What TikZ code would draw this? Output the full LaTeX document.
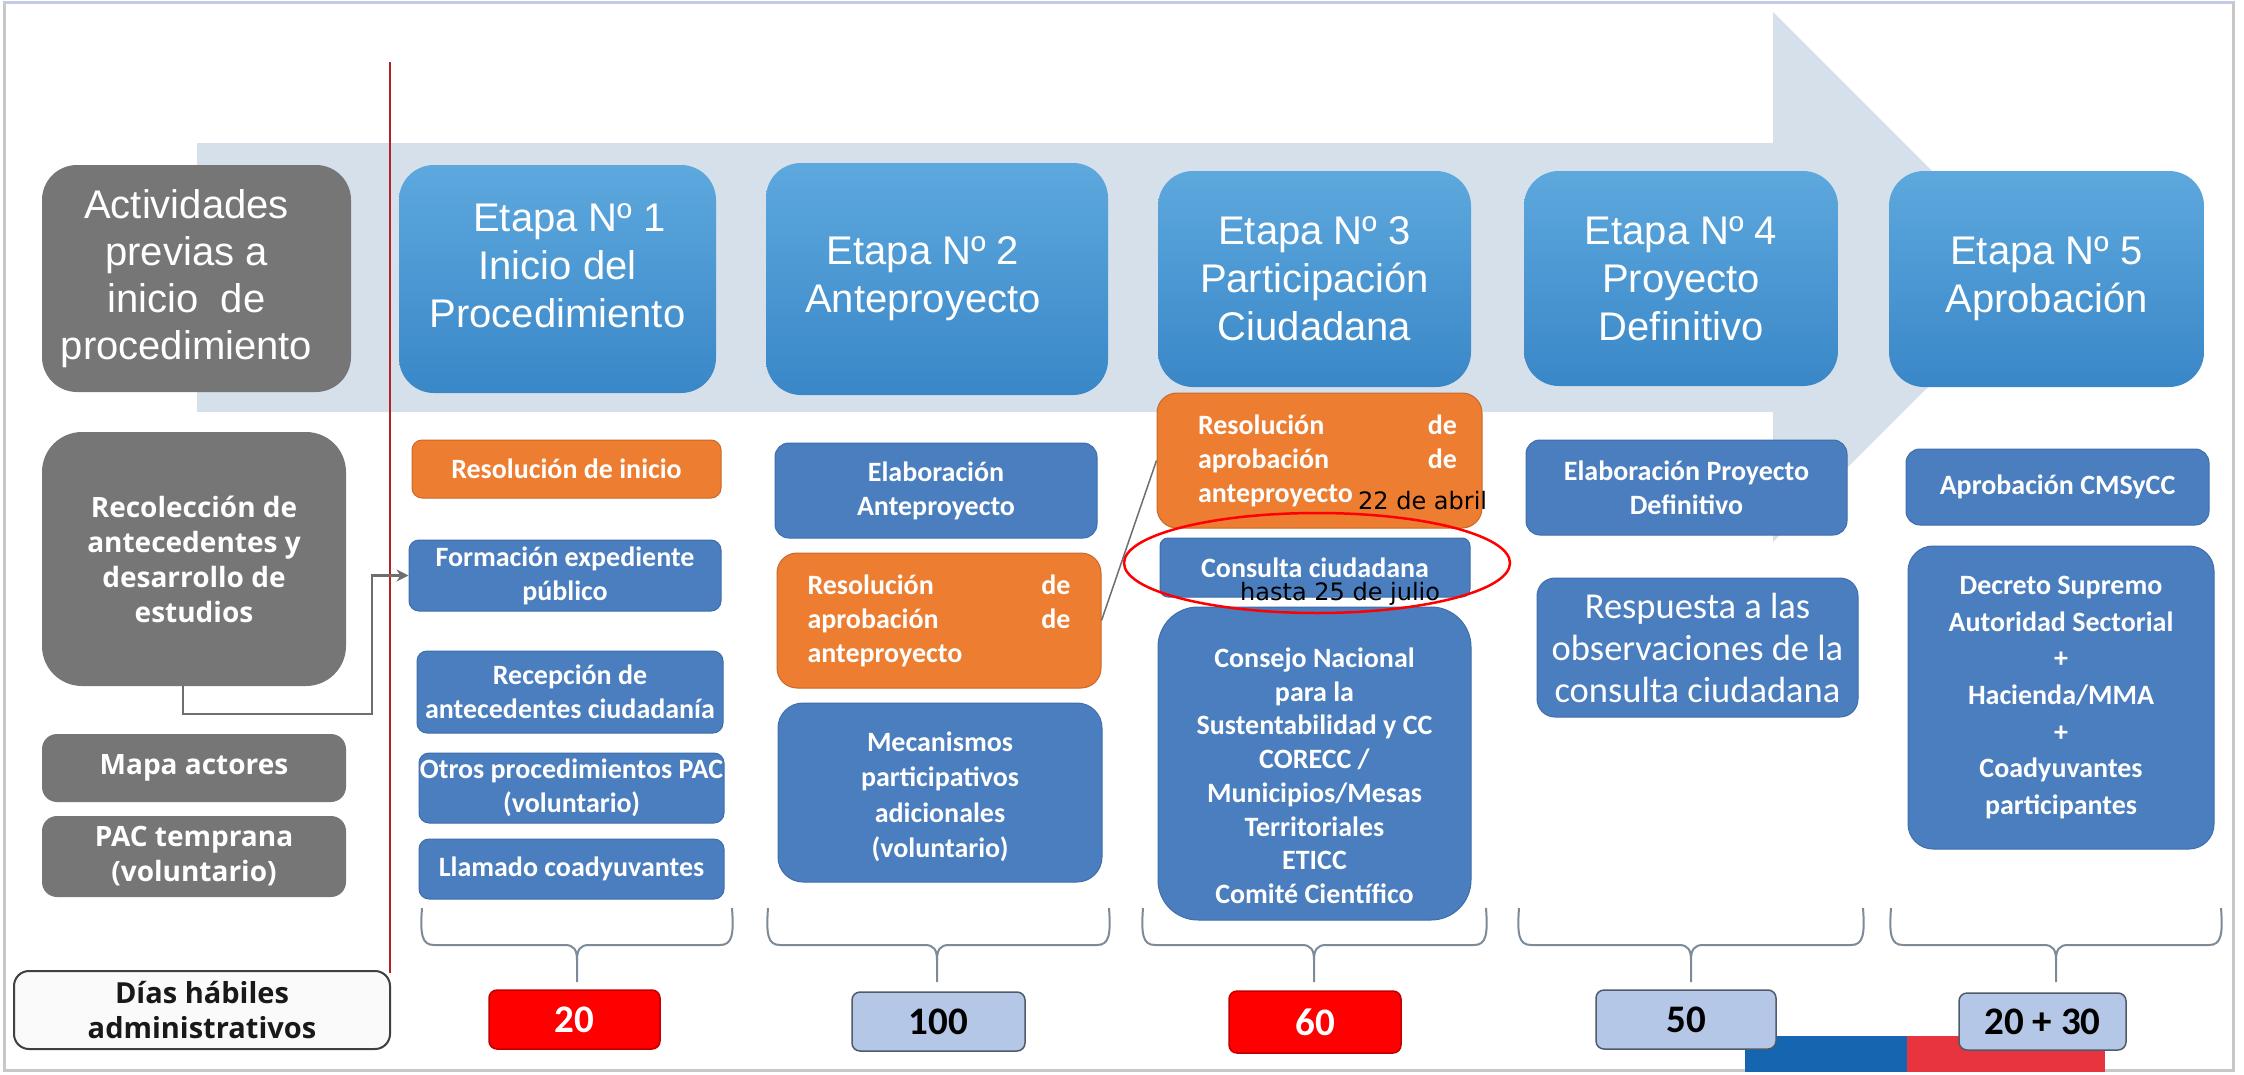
\documentclass[tikz,border=0pt]{standalone}
\usepackage{fontspec}
\newfontfamily\hdrfont{Liberation Sans}
\newfontfamily\calfont{Carlito}
\newfontfamily\osfont{Open Sans}
\newfontfamily\dvfont{DejaVu Sans}
\usetikzlibrary{arrows.meta}
\definecolor{arrowbg}{HTML}{D6E0EB}
\definecolor{hdrtop}{HTML}{5DA8DD}
\definecolor{hdrbot}{HTML}{3A87C8}
\definecolor{boxblue}{HTML}{4A7EBF}
\definecolor{boxblueD}{HTML}{3F6EAA}
\definecolor{boxorange}{HTML}{ED7D31}
\definecolor{boxorangeD}{HTML}{C96828}
\definecolor{boxgray}{HTML}{767676}
\definecolor{numred}{HTML}{FF0000}
\definecolor{numredD}{HTML}{C00000}
\definecolor{numblue}{HTML}{B4C7E7}
\definecolor{numblueD}{HTML}{4F5B6B}
\definecolor{bracec}{HTML}{7D8A98}
\definecolor{connc}{HTML}{6E6E6E}
\definecolor{vline}{HTML}{B22222}
\definecolor{framec}{HTML}{C8C8C8}
\definecolor{frametop}{HTML}{C5CAE6}
\definecolor{flagblue}{HTML}{1565B0}
\definecolor{flagred}{HTML}{E8343F}
\newcommand\jfill{\hskip 0pt plus 1fill\relax}
\newcommand\rpad[1]{\kern#1\null}
\newcommand\lpad[1]{\null\kern#1}
\newcommand\mybrace[3]{%
  \draw[brc] (#1,908) .. controls (#1-2,935) and (#1,945) .. (#1+12,945) -- (#2-12,945) .. controls (#2-3,945) and (#2,950) .. (#2,960) -- (#2,982);
  \draw[brc] (#3,908) .. controls (#3+2,935) and (#3,945) .. (#3-12,945) -- (#2+12,945) .. controls (#2+3,945) and (#2,950) .. (#2,960);}
\tikzset{
  wh/.style 2 args={minimum width=#1pt, minimum height=#2pt},
  hdr/.style={rounded corners=35pt, top color=hdrtop, bottom color=hdrbot, draw=none, text=white,
    font=\hdrfont\fontsize{40}{48}\selectfont, align=center, inner sep=0pt},
  sb/.style={rounded corners=10pt, fill=boxblue, draw=boxblueD, line width=1pt, text=white,
    font=\calfont\bfseries\fontsize{28}{34}\selectfont, align=center, inner sep=0pt},
  ob/.style={sb, fill=boxorange, draw=boxorangeD},
  gb/.style={rounded corners=15pt, fill=boxgray, draw=none, text=white,
    font=\osfont\bfseries\fontsize{28}{35}\selectfont, align=center, inner sep=0pt},
  nb/.style={rounded corners=8pt, line width=1.5pt, font=\calfont\bfseries\fontsize{39}{44}\selectfont, inner sep=0pt},
  nred/.style={nb, fill=numred, draw=numredD, text=white},
  nblu/.style={nb, fill=numblue, draw=numblueD, text=black},
  brc/.style={draw=bracec, line width=2pt},
  conn/.style={draw=connc, line width=2.5pt, -{Stealth[length=12pt, width=12pt]}},
  note/.style={anchor=base west, font=\dvfont\fontsize{24}{28}\selectfont, inner sep=0pt, text=black}
}
\begin{document}
\begin{tikzpicture}[x=1pt, y=-1pt]
\useasboundingbox (0,0) rectangle (2244,1074);
\fill[white] (0,0) rectangle (2244,1074);
\draw[framec, line width=3pt] (4,2) rectangle (2233,1070);
\draw[frametop, line width=3pt] (4,2) -- (2233,2);
% big arrow
\fill[arrowbg] (197,143) -- (1773,143) -- (1773,12) -- (2038,277) -- (1773,542) -- (1773,412) -- (197,412) -- cycle;
% red vertical line
\draw[vline, line width=1.5pt] (390,62) -- (390,973);
% bottom bars
\fill[flagblue] (1745,1036) rectangle (1907,1072);
\fill[flagred] (1907,1036) rectangle (2105,1072);
% left column
\node[gb, rounded corners=35pt, font=\hdrfont\fontsize{40}{47}\selectfont, wh={309}{227}] (act) at (196.5,278.5) {Actividades\rpad{20pt}\\previas a\rpad{20pt}\\inicio\ \ de\rpad{20pt}\\procedimiento\rpad{20pt}};
\node[gb, rounded corners=40pt, wh={304}{254}] (rec) at (194,559) {Recolección de\\antecedentes y\\desarrollo de\\estudios};
\node[gb, wh={304}{68}] (mapa) at (194,768) {Mapa actores};
\node[gb, wh={304}{81}] (pac) at (194,856.5) {PAC temprana\\(voluntario)};
\node[rounded corners=15pt, fill=white!98!black, draw=black!75, line width=2pt, text=black!90,
  font=\osfont\bfseries\fontsize{29}{35}\selectfont, align=center, inner sep=0pt, wh={376}{78}] (dias) at (202,1010) {Días hábiles\\administrativos};
% headers
\node[hdr, wh={317}{228}, text depth=26pt] (e1) at (557.5,279) {\lpad{24pt}Etapa Nº 1\\Inicio del\\Procedimiento};
\node[hdr, wh={342}{232}] (e2) at (937,279) {Etapa Nº 2\rpad{28pt}\\Anteproyecto\rpad{28pt}};
\node[hdr, wh={313}{216}] (e3) at (1314.5,279) {Etapa Nº 3\\Participación\\Ciudadana};
\node[hdr, wh={314}{215}] (e4) at (1681,278.5) {Etapa Nº 4\\Proyecto\\Definitivo};
\node[hdr, wh={315}{216}] (e5) at (2046.5,279) {Etapa Nº 5\\Aprobación};
% column 1
\node[ob, wh={309}{58}] (res1) at (566.5,469) {Resolución de inicio};
\node[sb, wh={312}{71}] (form) at (565,575.5) {Formación expediente\\público};
\node[sb, wh={306}{82}] (recep) at (570,692) {Recepción de\\antecedentes ciudadanía};
\node[sb, wh={305}{70}] (otros) at (571.5,788) {Otros procedimientos PAC\\(voluntario)};
\node[sb, wh={305}{60}] (llam) at (571.5,869) {Llamado coadyuvantes};
\node[nred, wh={171}{59}] (n20) at (574.5,1019.5) {20};
% column 2
\node[sb, wh={322}{95}, rounded corners=14pt] (elab) at (936,490.5) {Elaboración\\Anteproyecto};
\node[ob, wh={324}{135}, rounded corners=20pt, text width=263pt, align=left] (res2) at (939,620.5) {Resolución\jfill de\\aprobación\jfill de\\anteproyecto};
\node[sb, wh={324}{179}, rounded corners=25pt, text height=135pt, font=\calfont\bfseries\fontsize{28}{35.5}\selectfont] (mec) at (940,792.5) {Mecanismos\\participativos\\adicionales\\(voluntario)};
\node[nblu, wh={173}{59}] (n100) at (938.5,1021.5) {100};
% column 3
\node[ob, wh={325}{135}, rounded corners=20pt, text width=275pt, align=left] (res3) at (1319.5,460.5) {\hspace*{16pt}Resolución\jfill de\\\hspace*{16pt}aprobación\jfill de\\\hspace*{16pt}anteproyecto};
\node[sb, wh={310}{59}, rounded corners=8pt] (cons) at (1315,567.5) {Consulta ciudadana};
\node[sb, wh={313}{313}, rounded corners=40pt, text height=280pt, font=\calfont\bfseries\fontsize{28}{33.7}\selectfont] (consejo) at (1314.5,763.5) {Consejo Nacional\\para la\\Sustentabilidad y CC\\CORECC /\\Municipios/Mesas\\Territoriales\\ETICC\\Comité Científico};
\node[nred, wh={172}{62}] (n60) at (1315,1022) {60};
% column 4
\node[sb, wh={321}{95}, rounded corners=14pt] (elabp) at (1686.5,487.5) {Elaboración Proyecto\\Definitivo};
\node[sb, wh={321}{139}, rounded corners=18pt, font=\calfont\fontsize{36.5}{42}\selectfont] (resp) at (1697.5,647.5) {Respuesta a las\\observaciones de la\\consulta ciudadana};
\node[nblu, wh={180}{59}] (n50) at (1686,1019.5) {50};
% column 5
\node[sb, wh={303}{76}, rounded corners=14pt] (aprob) at (2057.5,487) {Aprobación CMSyCC};
\node[sb, wh={306}{303}, rounded corners=25pt, font=\calfont\bfseries\fontsize{28}{36.7}\selectfont] (decr) at (2061,697.5) {Decreto Supremo\\Autoridad Sectorial\\+\\Hacienda/MMA\\+\\Coadyuvantes\\participantes};
\node[nblu, wh={167}{57}] (n2030) at (2042.5,1021.5) {20 + 30};
% braces
\mybrace{422}{577}{732}
\mybrace{768}{937}{1109}
\mybrace{1143}{1314}{1486}
\mybrace{1519}{1691}{1863}
\mybrace{1891}{2056}{2221}
% connectors
\coordinate (bend) at (372,714);
\draw[conn] ([xshift=-11pt]rec.south) |- (bend) |- (form.west);
\draw[draw=connc, line width=1.5pt] (res2.east) -- (res3.west);
% annotations
\draw[red, line width=2.5pt] (1317,563) ellipse [x radius=193pt, y radius=50pt];
\node[note] (abril) at (1358,509) {22 de abril};
\node[note] (julio) at (1240,600) {hasta 25 de julio};
\end{tikzpicture}
\end{document}
